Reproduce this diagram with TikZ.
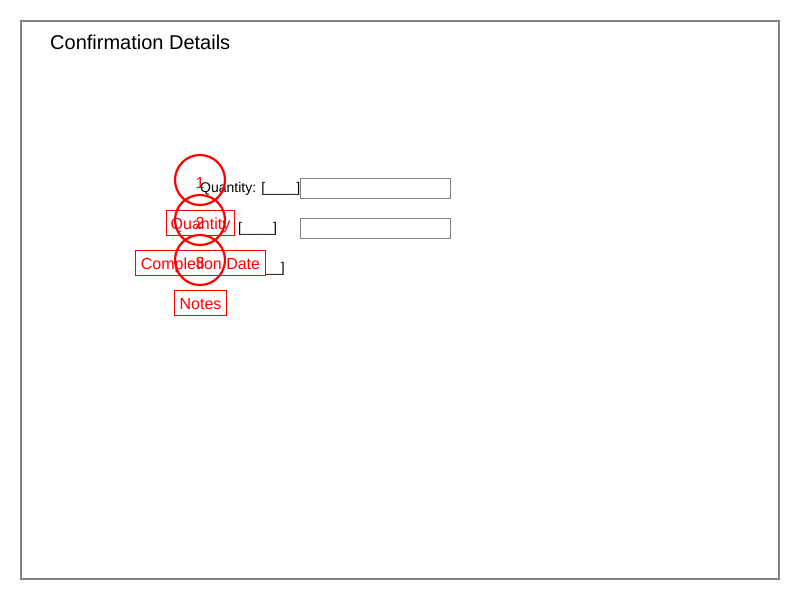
\documentclass[tikz,border=0pt]{standalone}
\usepackage{fontspec}
\setmainfont{Liberation Sans}
\begin{document}
\begin{tikzpicture}[x=1pt,y=-1pt,
  frame/.style={draw=black!50,line width=2pt},
  title/.style={anchor=west,inner sep=0pt,font=\fontsize{20}{24}\selectfont},
  formtext/.style={inner sep=0pt,font=\fontsize{14}{16}\selectfont},
  inputbox/.style={draw=black!50,line width=1pt,fill=white},
  redlabel/.style={draw=red,fill=white,line width=1pt,text=red,inner sep=0pt,
    text height=14pt,text depth=0pt,font=\fontsize{16}{18}\selectfont},
  marker/.style={draw=red,line width=2.2pt,circle,minimum size=50pt,inner sep=0pt},
  markernum/.style={text=red,inner sep=0pt,font=\fontsize{16}{18}\selectfont}]
\useasboundingbox (0,0) rectangle (800,600);
\fill[white] (0,0) rectangle (800,600);
\draw[frame] (21,21) rectangle (779,579);
\node[title] (title) at (50,42) {Confirmation Details};
% form texts
\node[formtext,anchor=west] (q1) at (200,188.5) {Quantity: [\_\_\_\_]};
\node[formtext,anchor=west] (q2) at (238,228.5) {[\_\_\_\_]};
\node[formtext,anchor=east] (q3) at (285,268.5) {[\_\_\_\_]};
% input boxes
\draw[inputbox] (300.5,178.5) rectangle (450.5,198.5);
\draw[inputbox] (300.5,218.5) rectangle (450.5,238.5);
% red labels
\node[redlabel,minimum width=68pt,minimum height=25pt] (lq) at (200.5,222.5) {Quantity};
\node[redlabel,minimum width=130pt,minimum height=25pt] (lc) at (200.5,262.5) {Completion Date};
\node[redlabel,minimum width=52pt,minimum height=25pt] (ln) at (200.5,302.5) {Notes};
% markers
\node[marker] (m1) at (200,180) {};
\node[marker] (m2) at (200,220) {};
\node[marker] (m3) at (200,260) {};
\node[markernum,yshift=-3pt] (n1) at (m1.center) {1};
\node[markernum,yshift=-3pt] (n2) at (m2.center) {2};
\node[markernum,yshift=-3pt] (n3) at (m3.center) {3};
\end{tikzpicture}
\end{document}
